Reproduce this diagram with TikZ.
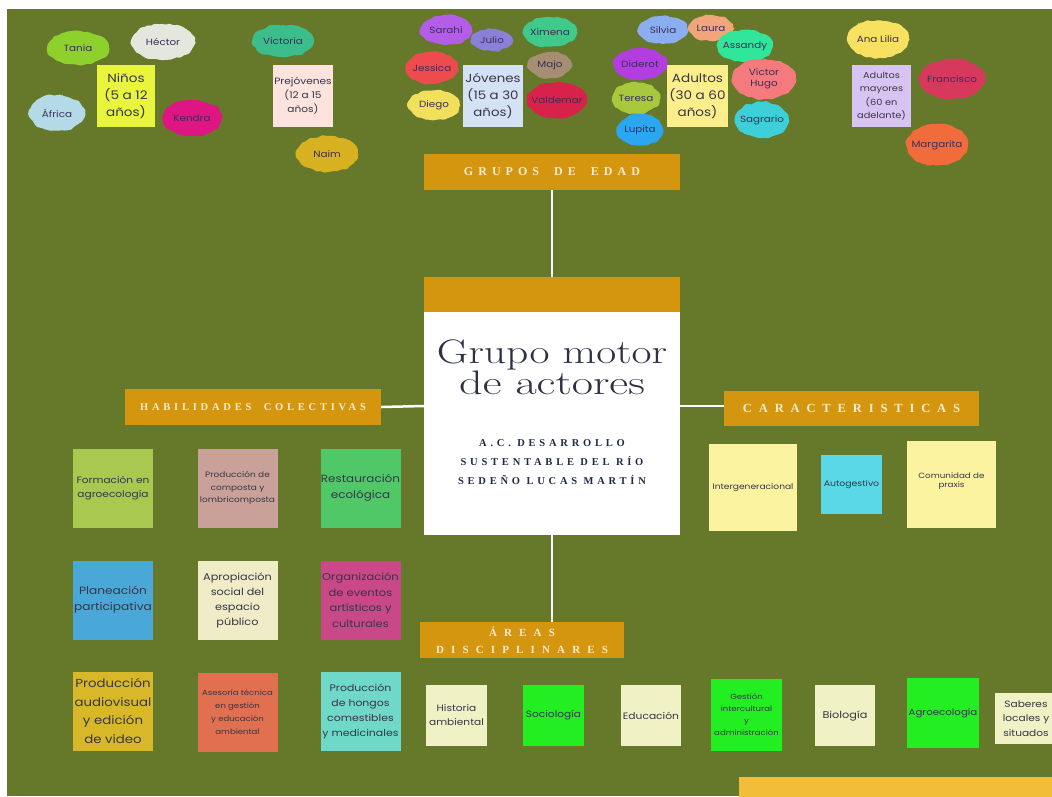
\documentclass[tikz,border=0pt]{standalone}
\usepackage{fontspec}
\newfontfamily\labelfont[FakeStretch=1.15]{Poppins}
\newfontfamily\headfont{Liberation Serif}
\usetikzlibrary{shapes.geometric, positioning, decorations.pathmorphing}

% colours
\definecolor{bggreen}{HTML}{66792A}
\definecolor{gold}{HTML}{D4960E}
\definecolor{headink}{HTML}{F6EBD0}
\definecolor{titleink}{HTML}{2D3142}
\definecolor{acink}{HTML}{1F2A44}
\definecolor{cardink}{HTML}{363646}
\definecolor{nameink}{HTML}{3B2E5A}
\definecolor{lowbar}{HTML}{F2BE3A}
% names
\definecolor{cTania}{HTML}{8ED12C}
\definecolor{cHector}{HTML}{E4E7DE}
\definecolor{cAfrica}{HTML}{B3DAE6}
\definecolor{cKendra}{HTML}{DF1583}
\definecolor{cVictoria}{HTML}{3CBD8C}
\definecolor{cNaim}{HTML}{D8B120}
\definecolor{cSarahi}{HTML}{B35DE8}
\definecolor{cJulio}{HTML}{8A80D8}
\definecolor{cXimena}{HTML}{3FC98B}
\definecolor{cJessica}{HTML}{EE4B4E}
\definecolor{cMajo}{HTML}{A68E72}
\definecolor{cDiego}{HTML}{F2E05C}
\definecolor{cValdemar}{HTML}{D8224A}
\definecolor{cSilvia}{HTML}{8AAEF0}
\definecolor{cLaura}{HTML}{F0A67A}
\definecolor{cAssandy}{HTML}{30E69A}
\definecolor{cDiderot}{HTML}{B23EE0}
\definecolor{cVictor}{HTML}{F47A7E}
\definecolor{cTeresa}{HTML}{A9C93C}
\definecolor{cSagrario}{HTML}{3DD0D8}
\definecolor{cLupita}{HTML}{2BA7F2}
\definecolor{cAnaLilia}{HTML}{F8E060}
\definecolor{cFrancisco}{HTML}{D7395C}
\definecolor{cMargarita}{HTML}{F26B3B}
% age groups
\definecolor{cNinos}{HTML}{E8F53C}
\definecolor{cPrej}{HTML}{FCE3DD}
\definecolor{cJov}{HTML}{D5E1F4}
\definecolor{cAdul}{HTML}{FDEE8C}
\definecolor{cMayor}{HTML}{D8C4F2}
% skills
\definecolor{cForm}{HTML}{A8C850}
\definecolor{cComp}{HTML}{C9A199}
\definecolor{cRest}{HTML}{50C868}
\definecolor{cPlan}{HTML}{4AA8D8}
\definecolor{cApro}{HTML}{F0ECC8}
\definecolor{cOrga}{HTML}{C84888}
\definecolor{cAudi}{HTML}{D8B828}
\definecolor{cAses}{HTML}{E07050}
\definecolor{cHong}{HTML}{70D8C8}
% features and areas
\definecolor{cPale}{HTML}{FBF3A0}
\definecolor{cAuto}{HTML}{5AD8E8}
\definecolor{cCream}{HTML}{F1F1C6}
\definecolor{cLime}{HTML}{22EE22}

\tikzset{
    blob/.style={ellipse, fill=#1, inner xsep=-7pt, inner ysep=-3pt, text=nameink, align=center,
        font=\labelfont\fontsize{9}{10.5}\selectfont,
        decorate, decoration={random steps, segment length=3pt, amplitude=1.2pt},
        rounded corners=1.5pt},
    blob/.default=white
}

\begin{document}
\pgfmathsetseed{11}
\begin{tikzpicture}[
    x=1pt, y=-1pt,
    card/.style={inner xsep=-2pt, inner ysep=1pt, align=center, text=cardink},
    header/.style={fill=gold, text=headink, minimum height=36, inner sep=0pt, align=center},
    link/.style={draw=white, line width=2.5pt}
]
\useasboundingbox (0,0) rectangle (1052,796);
\clip (0,0) rectangle (1052,796);
\fill[white] (0,0) rectangle (1052,796);
\fill[bggreen] (7,9) rectangle (1052,796);

% Names round the age groups
\foreach \nm/\x/\y/\w/\h/\col/\txt in {
    tania/78/48/62/34/cTania/Tania, hector/163/42/64/36/cHector/Héctor,
    africa/57/113/56/36/cAfrica/África, kendra/192/118/60/36/cKendra/Kendra,
    victoria/283/41/62/32/cVictoria/Victoria, naim/327/154/62/36/cNaim/Naim,
    sarahi/446/30/52/30/cSarahi/Sarahi, julio/492/40/42/22/cJulio/Julio,
    ximena/550/32/54/30/cXimena/Ximena, jessica/432/68/52/32/cJessica/Jessica,
    majo/550/65/44/26/cMajo/Majo, diego/434/105/52/30/cDiego/Diego,
    valdemar/557/100/60/36/cValdemar/Valdemar, silvia/663/30/50/28/cSilvia/Silvia,
    laura/711/28/45/26/cLaura/Laura, assandy/745/46/56/32/cAssandy/Assandy,
    diderot/640/64/54/32/cDiderot/Diderot, victor/764/79/64/40/cVictor/{Victor\\Hugo},
    teresa/636/98/48/32/cTeresa/Teresa, sagrario/762/120/54/36/cSagrario/Sagrario,
    lupita/640/130/46/32/cLupita/Lupita, analilia/878/39/62/38/cAnaLilia/Ana Lilia,
    francisco/952/79/66/40/cFrancisco/Francisco, margarita/937/145/62/42/cMargarita/Margarita} {
    \node[blob=\col, minimum width=\w, minimum height=\h] (n_\nm) at (\x,\y) {\txt};
}

% Age groups
\foreach \nm/\x/\w/\col/\fs/\bs/\txt in {
    ninos/126/58/cNinos/11.8/17/{Niños\\(5 a 12\\años)},
    prej/303/60/cPrej/9.2/14/{Prejóvenes\\(12 a 15\\años)},
    jov/493/60/cJov/11.6/17/{Jóvenes\\(15 a 30\\años)},
    adul/697.5/61/cAdul/11.8/17/{Adultos\\(30 a 60\\años)},
    mayor/881.5/59/cMayor/8.5/13.5/{Adultos\\mayores\\(60 en\\adelante)}} {
    \node[card, fill=\col, minimum width=\w, minimum height=62,
          font=\labelfont\fontsize{\fs}{\bs}\selectfont] (g_\nm) at (\x,96) {\txt};
}

% Headers
\node[header, minimum width=256,
      font=\headfont\bfseries\addfontfeature{LetterSpace=42}\fontsize{12}{14}\selectfont]
      (hEdad) at (552,172) {GRUPOS\hspace{7pt} DE\hspace{7pt} EDAD};
\node[header, minimum width=256,
      font=\headfont\bfseries\addfontfeature{LetterSpace=36}\fontsize{10.5}{13}\selectfont]
      (hHab) at (253,407) {HABILIDADES\hspace{6pt} COLECTIVAS};
\node[header, minimum width=255, minimum height=35,
      font=\headfont\bfseries\addfontfeature{LetterSpace=55}\fontsize{12.5}{14}\selectfont]
      (hCar) at (851.5,408.5) {CARACTERISTICAS};
\node[header, minimum width=204,
      font=\headfont\bfseries\addfontfeature{LetterSpace=65}\fontsize{11}{17}\selectfont]
      (hAre) at (522,640) {ÁREAS\\DISCIPLINARES};

% Central card
\node[fill=white, minimum width=256, minimum height=258, inner sep=0pt] (core) at (552,406) {};
\node[fill=gold, anchor=north, minimum width=256, minimum height=35, inner sep=0pt] (coretop) at (core.north) {};
\node[text=titleink, align=center, font=\fontsize{34}{29}\selectfont] (title) at (552,367)
      {\scalebox{1.28}[1]{Grupo motor}\\\scalebox{1.36}[1]{de actores}};
\node[text=acink, align=center,
      font=\headfont\bfseries\addfontfeature{LetterSpace=36}\fontsize{10.5}{19}\selectfont]
      (acname) at (552,462) {A.C. DESARROLLO\\SUSTENTABLE DEL RÍO\\SEDEÑO LUCAS MARTÍN};

% Connectors
\draw[link] (hEdad.south) -- (core.north);
\draw[link] (hHab.east) -- (core.west);
\draw[link] (core.east) -- (core.east -| hCar.west);
\draw[link] (core.south) -- (core.south |- hAre.north);

% Collective skills
\foreach \nm/\x/\y/\col/\fs/\bs/\txt in {
    form/113/488/cForm/9.2/14/{Formación en\\agroecología},
    comp/237.5/488/cComp/7.8/12.5/{Producción de\\composta y\\lombricomposta},
    rest/360.5/488/cRest/10.4/16/{Restauración\\ecológica},
    plan/113/600/cPlan/10.6/16/{Planeación\\participativa},
    apro/237.5/600/cApro/9.8/15/{Apropiación\\social del\\espacio\\público},
    orga/360.5/600/cOrga/10/15.5/{Organización\\de eventos\\artísticos y\\culturales},
    audi/113/711/cAudi/11.6/18.5/{Producción\\audiovisual\\y edición\\de video},
    ases/237.5/712/cAses/7.4/13/{Asesoría técnica\\en gestión\\y educación\\ambiental},
    hong/360.5/711/cHong/9.5/15/{Producción\\de hongos\\comestibles\\y medicinales}} {
    \node[card, fill=\col, minimum width=80, minimum height=79,
          font=\labelfont\fontsize{\fs}{\bs}\selectfont] (h_\nm) at (\x,\y) {\txt};
}

% Features
\node[card, fill=cPale, minimum width=88, minimum height=87,
      font=\labelfont\fontsize{7.9}{11}\selectfont] (c_inter) at (753,487.5) {Intergeneracional};
\node[card, fill=cAuto, minimum width=61, minimum height=59,
      font=\labelfont\fontsize{8.1}{11}\selectfont] (c_auto) at (851.5,484.5) {Autogestivo};
\node[card, fill=cPale, minimum width=89, minimum height=87,
      font=\labelfont\fontsize{7.6}{11}\selectfont] (c_comu) at (951.5,484.5) {\raisebox{8pt}{\shortstack{Comunidad de\\praxis}}};

% Disciplinary areas
\foreach \nm/\x/\y/\w/\h/\col/\fs/\bs/\txt in {
    hist/456.5/715.5/61/61/cCream/9.2/14/{Historia\\ambiental},
    soci/553.5/715.5/61/61/cLime/9.2/13/{Sociología},
    educ/651/715.5/60/61/cCream/9.3/13/{Educación},
    gest/746.5/715/71/72/cLime/7.4/12/{Gestión\\intercultural\\y\\administración},
    biol/845/715.5/60/61/cCream/9.8/13/{Biología},
    agro/943/713/72/70/cLime/8.9/13/{Agroecología},
    sabe/1026/718.5/62/51/cCream/9.2/14.5/{Saberes\\locales y\\situados}} {
    \node[card, fill=\col, minimum width=\w, minimum height=\h,
          font=\labelfont\fontsize{\fs}{\bs}\selectfont] (a_\nm) at (\x,\y) {\txt};
}

% Lower bar
\fill[lowbar] (739,777) rectangle (1060,800);
\end{tikzpicture}
\end{document}
